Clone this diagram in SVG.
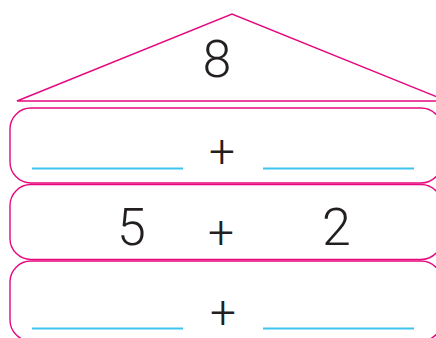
<svg xmlns="http://www.w3.org/2000/svg" width="436" height="338" viewBox="0 0 436 338">
<style>
.pk{fill:none;stroke:#E6087F;stroke-width:1.4}
.bl{stroke:#3FC4EF;stroke-width:2.2}
.num{font-family:Roboto,"Liberation Sans",Arial,sans-serif;font-weight:300;font-size:52px;fill:#231F20;text-anchor:middle}
.op{font-family:Roboto,"Liberation Sans",Arial,sans-serif;font-weight:300;font-size:46px;fill:#231F20;text-anchor:middle}
</style>
<rect width="436" height="338" fill="#fff"/>
<g id="roof">
<path class="pk" d="M17,101 L232,14 L447,101 Z"/>
<text class="num" x="217" y="77">8</text>
</g>
<g id="row1">
<rect class="pk" x="10" y="108" width="432" height="75" rx="21"/>
<line class="bl" x1="32" y1="168.5" x2="183" y2="168.5"/>
<text class="op" x="222" y="167">+</text>
<line class="bl" x1="263" y1="168.5" x2="414" y2="168.5"/>
</g>
<g id="row2">
<rect class="pk" x="10" y="184.5" width="432" height="75" rx="21"/>
<text class="num" x="131.5" y="245">5</text>
<text class="op" x="221" y="248">+</text>
<text class="num" x="336.5" y="245">2</text>
</g>
<g id="row3">
<rect class="pk" x="10" y="261" width="432" height="80" rx="21"/>
<line class="bl" x1="32" y1="328.5" x2="183" y2="328.5"/>
<text class="op" x="223" y="328">+</text>
<line class="bl" x1="263" y1="328.5" x2="414" y2="328.5"/>
</g>
</svg>
